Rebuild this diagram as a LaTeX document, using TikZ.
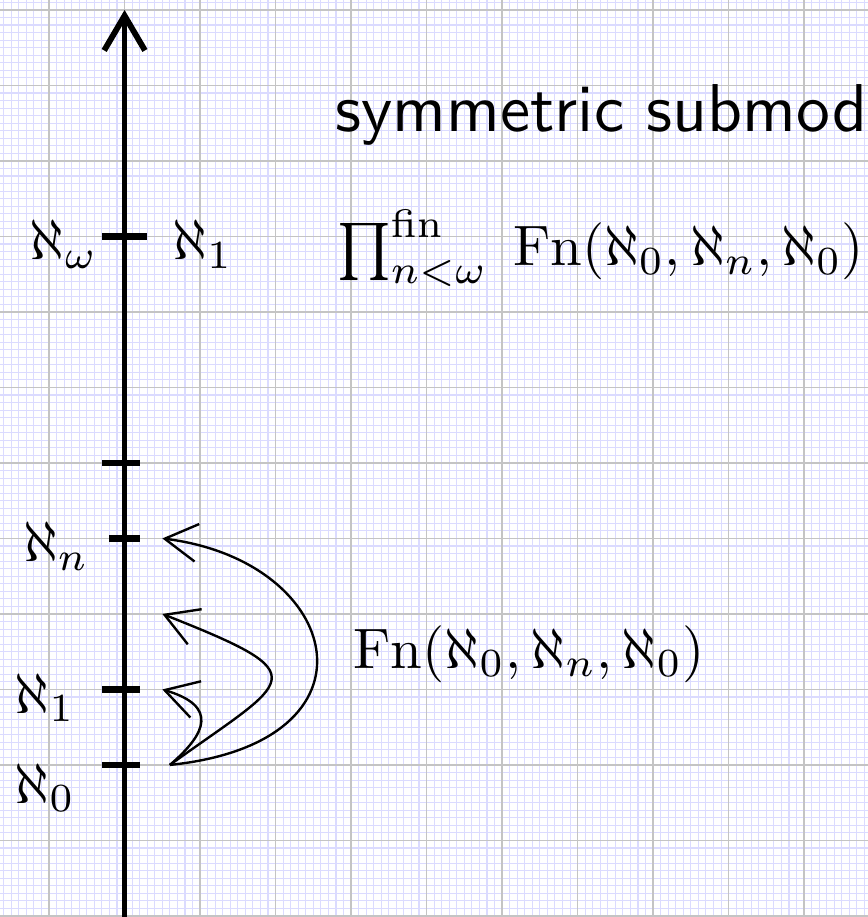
\documentclass[tikz,border=0pt]{standalone}
\usetikzlibrary{arrows.meta}
\tikzset{
  minorgrid/.style={draw=blue!14, line width=0.4pt},
  majorgrid/.style={draw=black!23, line width=0.55pt},
  axisline/.style={line width=2.2pt},
  tickline/.style={line width=2.4pt},
  curvearrow/.style={line width=0.9pt, -{Straight Barb[length=4.3mm,width=5mm]}},
  lbl/.style={inner sep=0pt, anchor=base west},
  mathlbl/.style={lbl, scale=2.15, transform shape},
  titlelbl/.style={lbl, scale=2.55, transform shape, font=\sffamily},
}
\begin{document}
\begin{tikzpicture}
\useasboundingbox (-1.65,-2.014) rectangle (9.847,10.132);
\clip (-1.65,-2.014) rectangle (9.847,10.132);
% grid
\draw[minorgrid, step=0.1] (-1.7,-2.1) grid (9.9,10.2);
\draw[majorgrid, step=1] (-1.7,-2.1) grid (9.9,10.2);
% axis
\coordinate (axbot) at (0,-2.3);
\coordinate (axtop) at (0,10.0);
\draw[axisline, -{Straight Barb[length=4.6mm,width=5.4mm,sharp]}] (axbot) -- (axtop);
% ticks
\coordinate (tw1) at (-0.3,7);   \coordinate (tw2) at (0.3,7);
\coordinate (tf1) at (-0.3,4);   \coordinate (tf2) at (0.2,4);
\coordinate (tn1) at (-0.2,3);   \coordinate (tn2) at (0.2,3);
\coordinate (to1) at (-0.3,1);   \coordinate (to2) at (0.2,1);
\coordinate (tz1) at (-0.3,0);   \coordinate (tz2) at (0.2,0);
\draw[tickline] (tw1) -- (tw2);
\draw[tickline] (tf1) -- (tf2);
\draw[tickline] (tn1) -- (tn2);
\draw[tickline] (to1) -- (to2);
\draw[tickline] (tz1) -- (tz2);
% curved arrows
\coordinate (src) at (0.6,0);
\coordinate (d1) at (0.5,1);
\coordinate (d2) at (0.5,2);
\coordinate (d3) at (0.5,3);
\draw[curvearrow] (src) .. controls (1.09,0.42) and (1.24,0.78) .. (d1);
\draw[curvearrow] (src) .. controls (2.21,1.16) and (2.6,1.17) .. (d2);
\draw[curvearrow] (src) .. controls (3.5,0.3) and (2.9,2.7) .. (d3);
% labels
\node[mathlbl] (aw) at (-1.27,6.69) {$\aleph_\omega$};
\node[mathlbl] (a1r) at (0.62,6.69) {$\aleph_1$};
\node[mathlbl] (an) at (-1.36,2.693) {$\aleph_n$};
\node[mathlbl] (a1) at (-1.47,0.685) {$\aleph_1$};
\node[mathlbl] (a0) at (-1.47,-0.507) {$\aleph_0$};
\node[titlelbl] (ttl) at (2.78,8.39) {symmetric submod};
\node[mathlbl] (prodf) at (2.80,6.61) {$\prod^{\mathrm{fin}}_{n<\omega}\;\mathrm{Fn}(\aleph_0,\aleph_n,\aleph_0)$};
\node[mathlbl] (fn) at (3.02,1.28) {$\mathrm{Fn}(\aleph_0,\aleph_n,\aleph_0)$};
\end{tikzpicture}
\end{document}
